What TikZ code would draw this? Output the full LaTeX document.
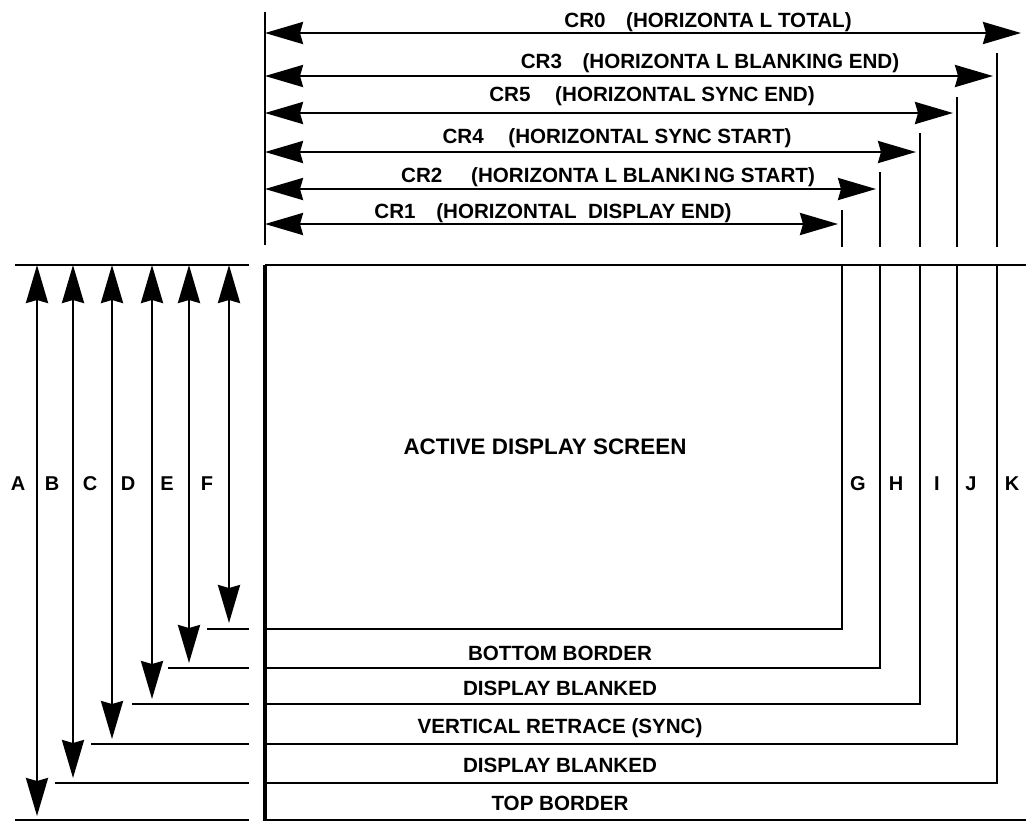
\documentclass[tikz,border=0pt]{standalone}
\usepackage{fontspec}
\setmainfont{Liberation Sans}
\usetikzlibrary{arrows.meta}
\tikzset{
	rule/.style={draw=black,line width=1.3pt},
	edge/.style={draw=black,line width=1.8pt},
	tipshape/.style={},
	dimline/.style={rule,{Stealth[length=19pt,width=11pt,inset=1.5pt]}-{Stealth[length=19pt,width=11pt,inset=1.5pt]}},
	crtext/.style={inner sep=0pt,anchor=base,font=\bfseries\fontsize{10.3}{12}\selectfont},
	bandtext/.style={inner sep=0pt,anchor=base,font=\bfseries\fontsize{10.3}{12}\selectfont},
	tag/.style={inner sep=0pt,anchor=base,font=\bfseries\fontsize{10}{12}\selectfont},
}

\begin{document}
\begin{tikzpicture}[x=0.5pt,y=-0.5pt]
	\useasboundingbox (0,0) rectangle (1026,821);
	\coordinate (top) at (265,12);
	\coordinate (org) at (265,265);
	\coordinate (bot) at (265,821);
	\draw[rule] (top) -- (265,245);
	\foreach \y/\tip/\cx/\by/\txt in {
		33/1021/708/27/{CR0\quad(HORIZONTA L TOTAL)},
		76/993/710/68/{CR3\quad(HORIZONTA L BLANKING END)},
		113/953/652/101/{CR5\hspace{1.2em}(HORIZONTAL SYNC END)},
		152/916/617/143/{CR4\hspace{1.2em}(HORIZONTAL SYNC START)},
		189/876/608/182/{CR2\hspace{1.4em}(HORIZONTA L BLANKI\,NG START)},
		224/838/553/218/{CR1\quad(HORIZONTAL\ \ DISPLAY END)}}
	{
		\draw[dimline] (265,\y) -- (\tip,\y);
		\node[crtext] at (\cx,\by) {\txt};
	}
	\foreach \n/\x/\up/\low/\lx in {G/842/210/629/858,H/880/172/668/896,I/920/133/704/937,J/957/97/744/971,K/997/53/783/1012}
	{
		\coordinate (\n t) at (\x,\up);
		\coordinate (\n b) at (\x,\low);
		\draw[rule] (\n t) -- (\x,247);
		\draw[rule] (\x,265) -- (\n b) -- (265,\low);
		\node[tag] at (\lx,490) {\n};
	}
	\foreach \n/\x/\tip/\low/\from/\lx in {A/37/816/820/15/18,B/73/778/783/55/52,C/112/739/744/91/90,D/152/699/704/132/128,E/189/663/668/168/167,F/229/623/629/207/207}
	{
		\draw[dimline] (\x,265) -- (\x,\tip);
		\draw[rule] (\from,\low) -- (249,\low);
		\node[tag] at (\lx,490) {\n};
	}
	\draw[rule] (15,265) -- (249,265);
	\draw[rule] (org) -- (1026,265);
	\draw[rule] (265,820) -- (1026,820);
	\draw[edge] (org) -- (bot);
	\node[crtext,font=\bfseries\fontsize{11.2}{13}\selectfont] at (545,454) {ACTIVE DISPLAY SCREEN};
	\foreach \by/\txt in {660/BOTTOM BORDER,695/DISPLAY BLANKED,733/VERTICAL RETRACE (SYNC),772/DISPLAY BLANKED,810/TOP BORDER}
	\node[bandtext] at (560,\by) {\txt};
\end{tikzpicture}
\end{document}
